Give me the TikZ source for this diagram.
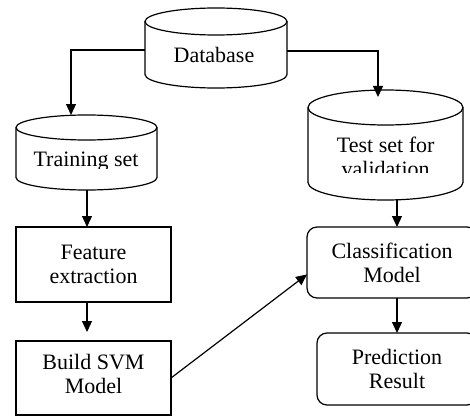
\documentclass[tikz,border=0pt]{standalone}
\usepackage{fontspec}
\setmainfont{Liberation Serif}
\usetikzlibrary{arrows.meta}

\tikzset{
  cylbody/.style={inner sep=0pt, outer sep=0pt},
  cyltxt/.style={inner sep=0pt, align=center},
  box/.style={draw, align=center, inner sep=2pt, outer sep=0pt},
  rbox/.style={box, rounded corners=5pt},
  arr/.style={-{Triangle[width=5pt,length=5.5pt]}}
}

\begin{document}
\begin{tikzpicture}[x=0.5pt, y=-0.5pt, line width=0.6pt, font=\fontsize{11}{12}\selectfont]
   \clip (0,0) rectangle (470,417);

   %Database
   \node[cylbody, minimum width=71pt, minimum height=26.5pt] (db) at (216,48) {};
   \draw (db.north west) -- (db.south west) arc[start angle=180, end angle=360, x radius=35.5pt, y radius=6.75pt] -- (db.north east);
   \draw (db.north) ellipse[x radius=35.5pt, y radius=6.75pt];
   \node[cyltxt, anchor=base] (dbtxt) at (214,62) {Database};

   %Training set
   \node[cylbody, minimum width=70.5pt, minimum height=25pt] (train) at (86.5,152.5) {};
   \draw (train.north west) -- (train.south west) arc[start angle=180, end angle=360, x radius=35.25pt, y radius=6.25pt] -- (train.north east);
   \draw (train.north) ellipse[x radius=35.25pt, y radius=6.25pt];
   \begin{scope}
      \clip (16,115) rectangle (157,168);
      \node[cyltxt, anchor=base] (traintxt) at (86,166.5) {Training set};
   \end{scope}

   %Test set
   \node[cylbody, minimum width=77.5pt, minimum height=37.5pt] (test) at (385.5,145) {};
   \draw (test.north west) -- (test.south west) arc[start angle=180, end angle=360, x radius=38.75pt, y radius=8.75pt] -- (test.north east);
   \draw (test.north) ellipse[x radius=38.75pt, y radius=8.75pt];
   \begin{scope}
      \clip (308,90) rectangle (463,172);
      \node[cyltxt] (testtxt) at (385.7,157) {Test set for\\validation};
   \end{scope}

   %Boxes
   \node[box, minimum width=77.5pt, minimum height=37.5pt] (feat) at (93.5,264.5) {Feature\\extraction};
   \node[box, minimum width=77.5pt, minimum height=37pt, text depth=4pt] (svm) at (93.5,378) {Build SVM\\Model};
   \node[rbox, minimum width=85pt, minimum height=35.5pt] (cls) at (392,262.5) {Classification\\Model};
   \node[rbox, minimum width=80pt, minimum height=36pt] (pred) at (397,369) {Prediction\\Result};

   %Connectors
   \coordinate (trin) at (71,115);
   \coordinate (tsin) at (378,97);
   \coordinate (trout) at (87,190);
   \coordinate (tsout) at (397,200);
   \draw[arr] (db.west |- 0,50) -| (trin);
   \draw[arr] (db.east |- 0,51) -| (tsin);
   \draw[arr] (trout) -- (trout |- feat.north);
   \draw[arr, shorten >=4.5pt] (feat.south -| trout) -- (svm.north -| trout);
   \draw[arr] (svm.east) -- (cls.188);
   \draw[arr] (tsout) -- (tsout |- cls.north);
   \draw[arr] (cls.south -| pred) -- (pred.north);
\end{tikzpicture}
\end{document}
